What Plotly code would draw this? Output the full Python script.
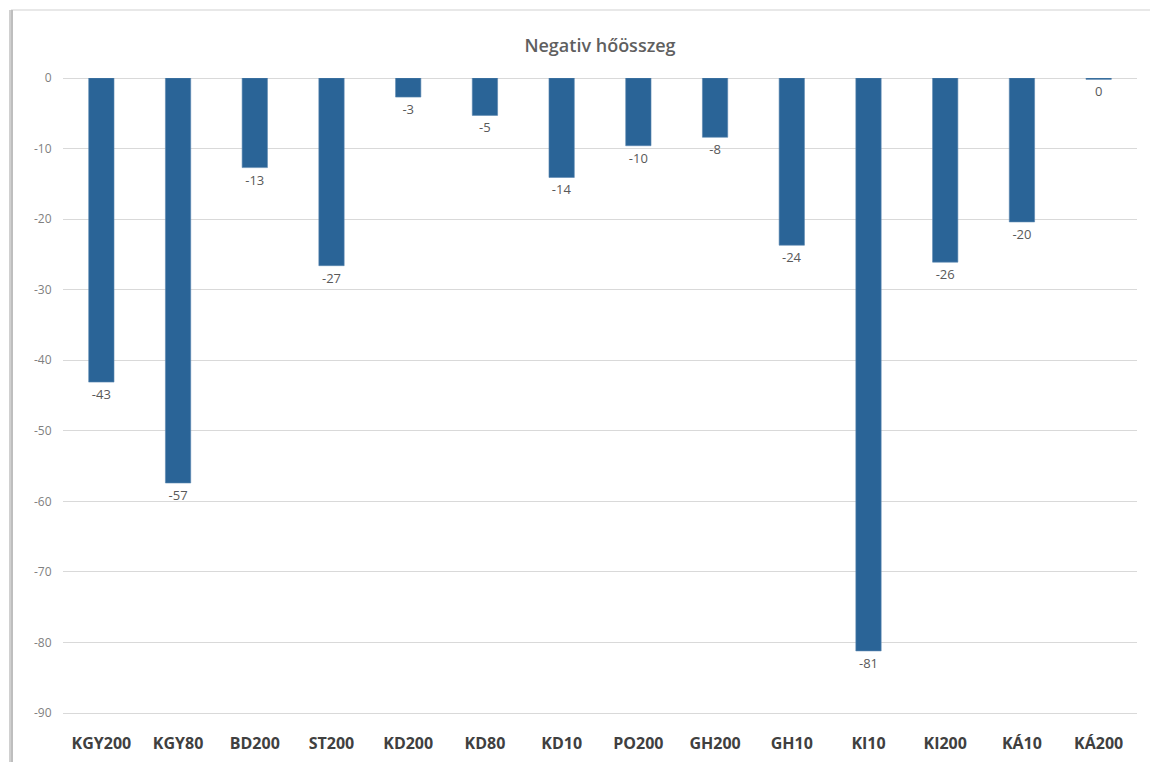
import plotly.graph_objects as go

# Negative heat sum per site / treatment
categories = ["KGY200", "KGY80", "BD200", "ST200", "KD200", "KD80", "KD10",
              "PO200", "GH200", "GH10", "KI10", "KI200", "KÁ10", "KÁ200"]
values = [-43.1, -57.4, -12.7, -26.6, -2.7, -5.3, -14.1,
          -9.6, -8.4, -23.7, -81.2, -26.1, -20.4, -0.2]
tick_values = [0, -10, -20, -30, -40, -50, -60, -70, -80, -90]

labels = [str(int(round(v))) for v in values]
tick_text = [str(t) for t in tick_values]

W, H = 1150, 762
ML, MR, MT, MB = 63, 13, 78, 49
PW, PH = W - ML - MR, H - MT - MB


def px_x(x):
    return (x - ML) / PW


def px_y(y):
    return (H - MB - y) / PH


fig = go.Figure(
    go.Bar(
        x=categories,
        y=values,
        marker=dict(color="#2A6497", line=dict(color="#5A87B0", width=0.6)),
        text=labels,
        textposition="outside",
        textfont=dict(family="Open Sans", size=13, color="#595959"),
        cliponaxis=False,
    )
)

# chart frame: light top edge and shadowed left edge
frame = [
    dict(x0=px_x(11), x1=px_x(1150), y0=px_y(10), y1=px_y(10),
         color="#E0E0E0", width=1.5),
    dict(x0=px_x(11), x1=px_x(11), y0=px_y(10), y1=px_y(762),
         color="#D0D0D0", width=4),
    dict(x0=px_x(12), x1=px_x(12), y0=px_y(10), y1=px_y(762),
         color="#B8B8B8", width=1.5),
]
shapes = [
    dict(type="line", xref="paper", yref="paper",
         x0=f["x0"], x1=f["x1"], y0=f["y0"], y1=f["y1"],
         line=dict(color=f["color"], width=f["width"]), layer="above")
    for f in frame
]

fig.update_layout(
    width=W,
    height=H,
    margin=dict(l=ML, r=MR, t=MT, b=MB, autoexpand=False),
    paper_bgcolor="white",
    plot_bgcolor="white",
    showlegend=False,
    bargap=0.67,
    shapes=shapes,
    title=dict(
        text="Negativ hőösszeg",
        x=0.5, xref="paper", xanchor="center",
        y=1 - 46 / H, yref="container", yanchor="middle",
        font=dict(family="Open Sans", size=18, color="#5F5F5F", weight=600),
    ),
    xaxis=dict(
        showgrid=False,
        showline=True,
        linecolor="#D9D9D9",
        linewidth=1,
        zeroline=False,
        ticks="outside",
        ticklen=16,
        tickcolor="rgba(0,0,0,0)",
        tickfont=dict(family="Open Sans", size=16, color="#404040", weight="bold"),
        fixedrange=True,
    ),
    yaxis=dict(
        range=[-90, 0],
        tickvals=tick_values,
        ticktext=tick_text,
        showgrid=True,
        gridcolor="#D9D9D9",
        gridwidth=1,
        zeroline=True,
        zerolinecolor="#D9D9D9",
        zerolinewidth=1,
        showline=False,
        ticks="outside",
        ticklen=8,
        tickcolor="rgba(0,0,0,0)",
        tickfont=dict(family="Open Sans", size=12, color="#7F7F7F"),
        fixedrange=True,
    ),
)

fig.write_html("out.html")
